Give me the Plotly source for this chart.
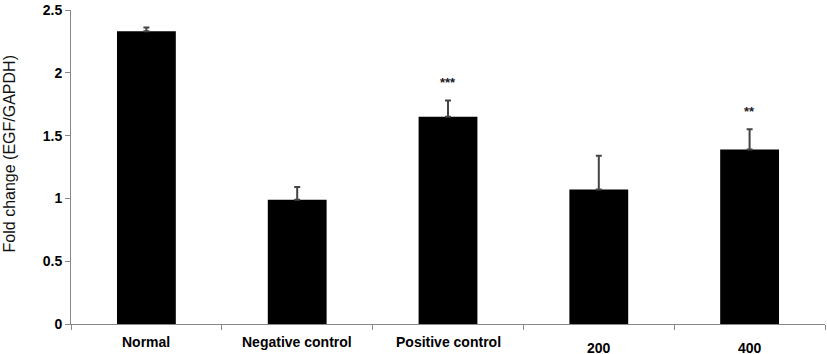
import plotly.graph_objects as go

categories = ["Normal", "Negative control", "Positive control", "200", "400"]
values = [2.33, 0.99, 1.65, 1.07, 1.39]
errors = [0.03, 0.10, 0.13, 0.27, 0.16]
stars = ["", "", "***", "", "**"]
label_shift = [0, 0, 0, -6, -6]
y_ticks = [0, 0.5, 1, 1.5, 2, 2.5]
y_ticktext = ["0", "0.5", "1", "1.5", "2", "2.5"]
y_title = "Fold change (EGF/GAPDH)"

fig = go.Figure()
fig.add_trace(go.Bar(
    x=categories, y=values,
    marker=dict(color="black", line=dict(width=0)),
    width=0.39,
    error_y=dict(type="data", array=errors, arrayminus=[0]*5, symmetric=False,
                 color="#444", thickness=2, width=3),
))

for i, (v, e, s) in enumerate(zip(values, errors, stars)):
    if s:
        fig.add_annotation(x=i, y=v + e, text="<b>" + s + "</b>", showarrow=False, yanchor="bottom",
                           yshift=8, font=dict(family="Liberation Sans", size=13, color="#222"))

for i, (c, sh) in enumerate(zip(categories, label_shift)):
    fig.add_annotation(x=i, y=0, yref="y", text="<b>" + c + "</b>", showarrow=False,
                       yanchor="top", yshift=-8 + sh,
                       font=dict(family="Liberation Sans", size=14, color="black"))

fig.add_annotation(xref="paper", yref="paper", x=0, y=0.54, xshift=-62, text=y_title,
                   textangle=-90, showarrow=False, xanchor="center", yanchor="middle",
                   font=dict(size=16, family="Liberation Sans", color="#111"))

fig.update_layout(
    width=827, height=354,
    margin=dict(l=71, r=2, t=5, b=30),
    paper_bgcolor="white", plot_bgcolor="white",
    showlegend=False,
    font=dict(family="Liberation Sans", size=12, color="black"),
)
fig.update_xaxes(
    type="category", range=[-0.5, 4.5], showticklabels=False,
    showline=True, linecolor="#888", linewidth=1,
    ticks="outside", tickson="boundaries", ticklen=5, tickcolor="#888",
    showgrid=False,
)
fig.update_yaxes(
    range=[0, 2.5], tickvals=y_ticks, ticktext=["<b>%s</b>" % t for t in y_ticktext],
    showline=True, linecolor="#888", linewidth=1,
    ticks="outside", ticklen=5, tickcolor="#888", showgrid=False, zeroline=False,
    ticklabeloverflow="allow",
    tickfont=dict(size=14, color="black"),
)
fig.write_html("out.html")
